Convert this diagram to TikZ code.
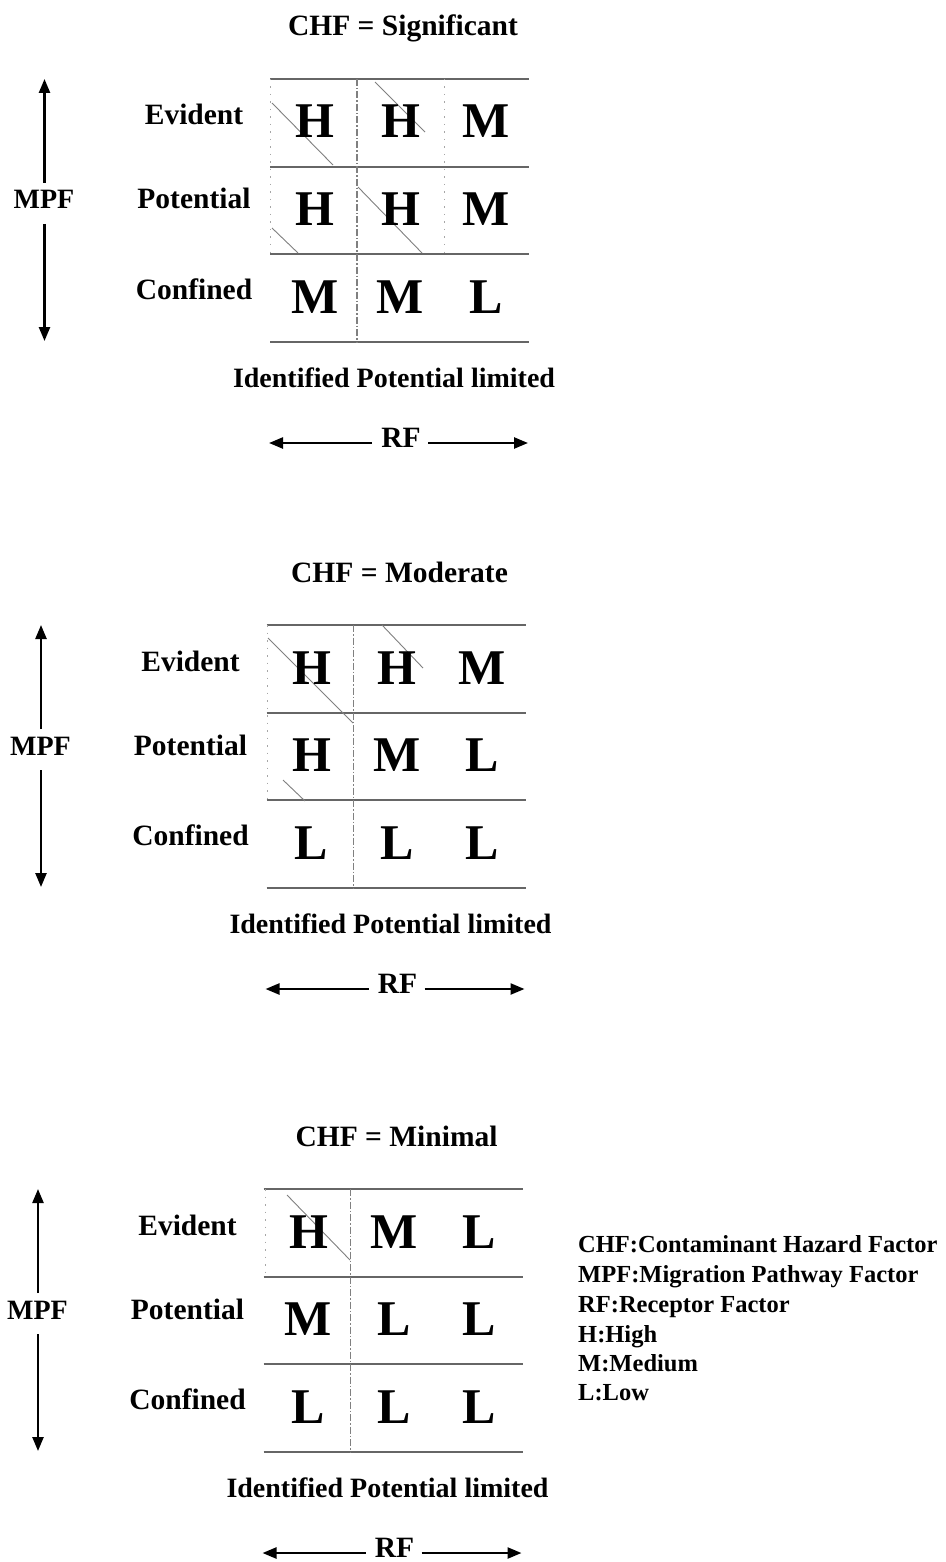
\documentclass[tikz,border=0pt]{standalone}
\usepackage{fontspec}
\setmainfont{Liberation Serif}
\usetikzlibrary{arrows.meta}

\tikzset{
  cell/.style={font=\fontsize{50}{50}\selectfont\bfseries, anchor=base, inner sep=0pt},
  rowlab/.style={font=\fontsize{29.5}{29.5}\selectfont\bfseries, anchor=base, inner sep=0pt},
  ttl/.style={font=\fontsize{29.5}{29.5}\selectfont\bfseries, anchor=base, inner sep=0pt},
  axlab/.style={font=\fontsize{28}{28}\selectfont\bfseries, anchor=base, inner sep=0pt},
  legend/.style={font=\fontsize{24.5}{29}\selectfont\bfseries, anchor=base west, inner sep=0pt},
  gridh/.style={draw=black!60, line width=1.5pt},
  gridv/.style={draw=black!50, line width=1.2pt, dash pattern=on 7pt off 2pt on 1.5pt off 2pt},
  faint/.style={draw=black!35, line width=0.9pt, dash pattern=on 1.5pt off 6pt},
  hatch/.style={draw=black!50, line width=0.9pt},
  axarr/.style={line width=2.4pt, -{Triangle[length=14pt,width=11pt]}}
}

% #1 name prefix, #2 shift, #3 CHF level, #4 the nine ratings row by row, #5 extra strokes
\newcommand{\riskpanel}[5]{%
  \begin{scope}[shift={#2}]
    \node[ttl] (#1-title) at (403,36) {CHF = #3};
    % matrix rules
    \draw[gridh] (270,79)  -- (529,79);
    \draw[gridh] (270,167) -- (529,167);
    \draw[gridh] (270,254) -- (529,254);
    \draw[gridh] (270,342) -- (529,342);
    \draw[gridv] (357,79)  -- (357,342);
    #5
    % MPF categories
    \node[rowlab] (#1-ev) at (194,125) {Evident};
    \node[rowlab] (#1-po) at (194,209) {Potential};
    \node[rowlab] (#1-co) at (194,299) {Confined};
    % ratings
    \foreach \L [count=\k from 0] in {#4} {
      \pgfmathtruncatemacro\rr{int(\k/3)}
      \pgfmathtruncatemacro\cc{mod(\k,3)}
      \node[cell] (#1-c\rr\cc) at ({315+85.5*\cc},{138+87.5*\rr}) {\L};
    }
    % MPF axis
    \node[axlab] (#1-mpf) at (44,209) {MPF};
    \coordinate (#1-up) at (44.5,79);
    \coordinate (#1-dn) at (44.5,341);
    \coordinate (#1-ua) at (44.5,183);
    \coordinate (#1-da) at (44.5,224);
    \draw[axarr] (#1-ua) -- (#1-up);
    \draw[axarr] (#1-da) -- (#1-dn);
    % RF categories and axis
    \node[axlab] (#1-rfcat) at (394,387) {Identified Potential limited};
    \node[ttl] (#1-rf) at (401,447) {RF};
    \coordinate (#1-rl) at (269,443);
    \coordinate (#1-rr) at (528,443);
    \coordinate (#1-ra) at (372,443);
    \coordinate (#1-rb) at (428,443);
    \draw[axarr] (#1-ra) -- (#1-rl);
    \draw[axarr] (#1-rb) -- (#1-rr);
  \end{scope}}

\begin{document}
\begin{tikzpicture}[x=1pt,y=-1pt]
  \useasboundingbox (0,0) rectangle (945,1562);
  \fill[white] (0,0) rectangle (945,1562);

  \riskpanel{sig}{(0,0)}{Significant}{H,H,M,H,H,M,M,M,L}{%
    \draw[faint] (270,79) -- (270,254);
    \draw[faint] (444,79) -- (444,254);
    \draw[hatch] (272,103) -- (333,165);
    \draw[hatch] (375,82)  -- (425,132);
    \draw[hatch] (272,228) -- (298,253);
    \draw[hatch] (358,187) -- (422,253);}

  \riskpanel{mod}{(-3.5,546)}{Moderate}{H,H,M,H,M,L,L,L,L}{%
    \draw[faint] (270.5,79) -- (270.5,254);
    \draw[hatch] (271.5,92) -- (356.5,177);
    \draw[hatch] (385.5,79) -- (426.5,122);
    \draw[hatch] (286.5,234) -- (308.5,255);}

  \riskpanel{min}{(-6.5,1110)}{Minimal}{H,M,L,M,L,L,L,L,L}{%
    \draw[faint] (271.5,79) -- (271.5,167);
    \draw[hatch] (293.5,85) -- (356.5,150);}

  % abbreviations
  \node[legend] (k1) at (578,1252) {CHF:Contaminant Hazard Factor};
  \node[legend] (k2) at (578,1282) {MPF:Migration Pathway Factor};
  \node[legend] (k3) at (578,1312) {RF:Receptor Factor};
  \node[legend] (k4) at (578,1342) {H:High};
  \node[legend] (k5) at (578,1371) {M:Medium};
  \node[legend] (k6) at (578,1400) {L:Low};
\end{tikzpicture}
\end{document}
